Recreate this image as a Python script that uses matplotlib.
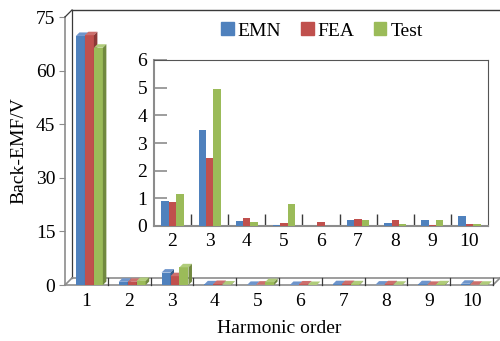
import matplotlib.pyplot as plt
from matplotlib.patches import Polygon, Patch
from matplotlib.ticker import FixedLocator

plt.rcParams['font.family'] = ['Liberation Serif', 'DejaVu Serif']
plt.rcParams['font.size'] = 14

harmonics = [1, 2, 3, 4, 5, 6, 7, 8, 9, 10]
emn = [69.7, 0.90, 3.47, 0.18, 0.03, 0.01, 0.22, 0.11, 0.22, 0.35]
fea = [69.9, 0.88, 2.47, 0.28, 0.10, 0.15, 0.26, 0.20, 0.04, 0.07]
test = [66.4, 1.14, 4.95, 0.13, 0.81, 0.00, 0.20, 0.07, 0.20, 0.07]

series = [('EMN', emn, '#4F81BD', '#6E95CC', '#385D8A'),
          ('FEA', fea, '#C0504D', '#CD6F6C', '#8C3836'),
          ('Test', test, '#9BBB59', '#B0CC7A', '#71893F')]

fig = plt.figure(figsize=(5, 3.41), dpi=100)

# main 3-D looking bar chart
ax = fig.add_axes([65 / 500, 1 - 285 / 341, 428 / 500, 268 / 341])
ax.set_xlim(0.5, 10.5)
ax.set_ylim(0, 75)
for s in ['top', 'right', 'bottom', 'left']:
    ax.spines[s].set_visible(False)

# floor / wall depth in data units
dx, dy = 7 / 42.8, 7 / 3.573
# bar depth
bdx, bdy = 3.5 / 42.8, 3.5 / 3.573
bw = 0.21
shift = 0.07

gray = '#8C8C8C'
dark = '#3A3A3A'
kw = dict(clip_on=False, lw=1.2)
ax.plot([0.5, 0.5], [0, 75], color=gray, **kw)
ax.plot([0.5 + dx, 0.5 + dx], [dy, 75 + dy], color=dark, lw=0.9, clip_on=False)
ax.plot([0.5, 0.5 + dx], [75, 75 + dy], color=dark, lw=0.9, clip_on=False)
ax.plot([0.5 + dx, 10.5 + dx + 0.2], [75 + dy, 75 + dy], color=dark, lw=1.0, clip_on=False)
ax.plot([0.5, 10.5], [0, 0], color=gray, **kw)
ax.plot([0.5 + dx, 10.5 + dx + 0.2], [dy, dy], color=gray, **kw)
ax.plot([0.5, 0.5 + dx], [0, dy], color=gray, **kw)
ax.plot([10.5, 10.5 + dx], [0, dy], color=gray, **kw)
for b in range(1, 11):
    ax.plot([b + 0.5, b + 0.5], [0, dy], color=dark, lw=0.9, clip_on=False)

for i, h in enumerate(harmonics):
    for j, (name, vals, front, top, side) in enumerate(series):
        v = vals[i]
        x0 = h + shift + (j - 1.5) * bw
        x1 = x0 + bw
        z = 3 + j
        ax.add_patch(Polygon([(x0, 0), (x1, 0), (x1, v), (x0, v)],
                             closed=True, fc=front, ec='none', zorder=z))
        ax.add_patch(Polygon([(x0, v), (x1, v), (x1 + bdx, v + bdy), (x0 + bdx, v + bdy)],
                             closed=True, fc=top, ec='none', zorder=z))
        ax.add_patch(Polygon([(x1, 0), (x1 + bdx, bdy), (x1 + bdx, v + bdy), (x1, v)],
                             closed=True, fc=side, ec='none', zorder=z))

ax.set_yticks([0, 15, 30, 45, 60, 75])
ax.set_xticks(harmonics)
ax.tick_params(axis='y', direction='out', length=4, color=gray, pad=3)
ax.tick_params(axis='x', length=0, pad=6)
ax.set_ylabel('Back-EMF/V', labelpad=6)
ax.set_xlabel('Harmonic order', labelpad=7)

# zoomed view of the higher harmonics
ins = fig.add_axes([154 / 500, 1 - 226 / 341, 334 / 500, 166 / 341])
ins.set_xlim(1.5, 10.5)
ins.set_ylim(0, 6)
iw = 0.2
for j, (name, vals, front, top, side) in enumerate(series):
    xs = [h + (j - 1) * iw for h in harmonics[1:]]
    ins.bar(xs, vals[1:], width=iw, color=front, zorder=3)
ins.set_xticks(harmonics[1:])
ins.xaxis.set_minor_locator(FixedLocator([k + 0.5 for k in range(2, 10)]))
ins.tick_params(axis='x', which='major', length=0, pad=5)
ins.tick_params(axis='x', which='minor', direction='in', length=9, color=dark, width=1)
ins.set_yticks(range(0, 7))
ins.tick_params(axis='y', direction='in', length=9, color=gray, width=1.2, pad=5)
ins.spines['left'].set_color(gray)
ins.spines['left'].set_linewidth(1.5)
ins.spines['bottom'].set_color(gray)
ins.spines['bottom'].set_linewidth(1.5)
ins.spines['top'].set_color('#555555')
ins.spines['right'].set_color('#555555')

handles = [Patch(color=c) for _, _, c, _, _ in series]
fig.legend(handles, [s[0] for s in series], loc='center',
           bbox_to_anchor=(322 / 500, 1 - 31 / 341), ncol=3, frameon=False,
           handlelength=0.65, handleheight=0.65, handletextpad=0.2,
           columnspacing=1.0, borderpad=0)

fig.savefig('out.png', dpi=100)
